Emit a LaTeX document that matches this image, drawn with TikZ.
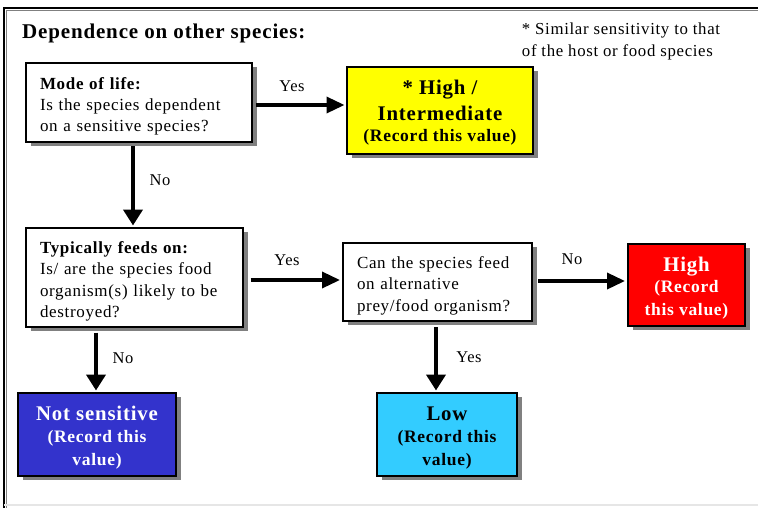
\documentclass[tikz,border=0pt]{standalone}
\usepackage{fontspec}
\setmainfont{Liberation Serif}[LetterSpace=4]
\usetikzlibrary{arrows.meta,shadows}

\definecolor{shadowgray}{HTML}{808080}
\definecolor{boxyellow}{HTML}{FFFF00}
\definecolor{boxred}{HTML}{FF0000}
\definecolor{boxcyan}{HTML}{33CCFF}
\definecolor{boxblue}{HTML}{3333CC}
\definecolor{framegray}{HTML}{E6E6E6}

% large bold first line of a result box; the invisible rule keeps some air above it
\newcommand{\bigline}[1]{{\bfseries\fontsize{20.8}{24.5}\selectfont #1}}
\newcommand{\topgap}[1]{\rule{0pt}{#1}}

\begin{document}
\begin{tikzpicture}[x=1pt,y=-1pt,
  every node/.style={inner sep=0pt},
  boxbase/.style={draw=black, line width=2pt,
    drop shadow={shadow xshift=4.5pt, shadow yshift=-4pt, fill=shadowgray, opacity=1}},
  question/.style={boxbase, fill=white, align=left, inner xsep=14pt,
    font=\fontsize{17}{21.3}\selectfont},
  result/.style={boxbase, align=center, font=\bfseries\fontsize{17.5}{22.5}\selectfont},
  answer/.style={font=\fontsize{16.5}{19}\selectfont},
  harr/.style={line width=3.5pt, -{Triangle[length=18pt,width=16pt]}},
  varr/.style={line width=4.5pt, -{Triangle[length=16pt,width=19pt]}}]

\useasboundingbox (0,0) rectangle (758,507);

% outer frame
\draw[line width=2.2pt, black] (4,508) -- (4,8) -- (759,8);
\draw[line width=1.4pt, shadowgray] (6.6,508) -- (6.6,10.6) -- (759,10.6);
\draw[line width=1.6pt, framegray] (4,505) -- (759,505);

% heading and footnote
\node[anchor=base west, font=\bfseries\fontsize{21}{24}\selectfont] (title) at (22,38)
  {Dependence on other species:};
\node[align=left, font=\fontsize{16.8}{22}\selectfont] (note) at (621,41.5)
  {* Similar sensitivity to that\\of the host or food species};

% question boxes
\node[question, text width=198pt, minimum height=79pt] (mode) at (139,102.5)
  {\topgap{19.5pt}{\bfseries Mode of life:}\\Is the species dependent\\on a sensitive species?};
\node[question, text width=189pt, minimum height=99pt] (feeds) at (134.5,277.5)
  {\topgap{19.5pt}{\bfseries Typically feeds on:}\\Is/ are the species food\\organism(s) likely to be\\destroyed?};
\node[question, text width=161pt, minimum height=78pt] (alt) at (437.5,282)
  {\topgap{19.5pt}Can the species feed\\on alternative\\prey/food organism?};

% result boxes
\node[result, fill=boxyellow, minimum width=186pt, minimum height=87pt] (inter) at (440,110)
  {\topgap{20.5pt}\bigline{* High /}\\[3pt]\bigline{Intermediate}\\[-1pt](Record this value)};
\node[result, fill=boxred, text=white, minimum width=117pt, minimum height=82pt] (high) at (686.5,285)
  {\topgap{20.5pt}\bigline{High}\\[-1pt](Record\\this value)};
\node[result, fill=boxcyan, minimum width=140pt, minimum height=83pt] (low) at (447,434.5)
  {\topgap{20.5pt}\bigline{Low}\\(Record this\\value)};
\node[result, fill=boxblue, text=white, minimum width=158pt, minimum height=83pt] (notsens) at (97,434.5)
  {\topgap{20.5pt}\bigline{Not sensitive}\\(Record this\\value)};

% connectors
\draw[harr, shorten <=3pt, shorten >=1.5pt] (mode.east |- 0,105) -- (inter.west |- 0,105);
\draw[varr, shorten <=3pt, shorten >=1.5pt] (mode.south -| 133,0) -- (feeds.north -| 133,0);
\draw[varr, shorten <=4.5pt, shorten >=1.5pt] (feeds.south -| 96,0) -- (notsens.north -| 96,0);
\draw[harr, shorten <=6.5pt, shorten >=2pt] (feeds.east |- 0,280) -- (alt.west |- 0,280);
\draw[harr, shorten <=5pt, shorten >=2pt] (alt.east |- 0,281) -- (high.west |- 0,281);
\draw[varr, shorten <=5pt, shorten >=1.5pt] (alt.south -| 436,0) -- (low.north -| 436,0);

% answer labels
\node[answer] (yes1) at (292,86) {Yes};
\node[answer] (no1) at (160,180) {No};
\node[answer] (yes2) at (287,260) {Yes};
\node[answer] (no2) at (572,259) {No};
\node[answer] (yes3) at (469,357) {Yes};
\node[answer] (no3) at (123,358) {No};
\end{tikzpicture}
\end{document}
